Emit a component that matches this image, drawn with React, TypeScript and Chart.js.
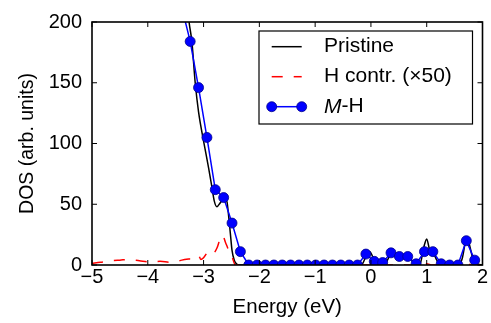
import React, { useEffect, useRef } from "react";
import { Chart, registerables } from "chart.js";

Chart.register(...registerables);

// ---- data ----
const mhEnergy = [-3.39, -3.24, -3.09, -2.94, -2.79, -2.64, -2.49, -2.34, -2.19, -2.04, -1.89, -1.74, -1.59, -1.44, -1.29, -1.14, -0.99, -0.84, -0.69, -0.54, -0.39, -0.24, -0.09, 0.06, 0.21, 0.36, 0.51, 0.66, 0.81, 0.96, 1.11, 1.26, 1.41, 1.56, 1.71, 1.86];
const mhDos = [212, 184, 146, 105, 62, 55.5, 34.5, 11, 0, 0, 0, 0, 0, 0, 0, 0, 0, 0, 0, 0, 0, 0, 9, 3, 2, 10, 7, 7, 1, 11, 11, 1, 0, 0, 20, 4];

const pristineEnergy = [-3.40, -3.35, -3.30, -3.26, -3.21, -3.15, -3.09, -3.00, -2.91, -2.85, -2.81, -2.76, -2.72, -2.67, -2.61, -2.58, -2.55, -2.52, -2.49, -2.45, -2.40, -2.35, -0.20, -0.15, -0.08, -0.02, 0.03, 0.08, 0.13, 0.25, 0.33, 0.40, 0.47, 0.55, 0.62, 0.68, 0.74, 0.80, 0.88, 0.95, 1.00, 1.05, 1.12, 1.18, 1.25, 1.58, 1.64, 1.69, 1.73, 1.78, 1.84, 1.90, 2.00];
const pristineDos = [262, 236, 219, 200, 184, 150, 126, 102, 80, 64, 53, 48, 50, 53, 54, 52, 40, 26, 12, 4, 0.5, 0, 0, 1, 8, 11, 7, 2, 0, 0.5, 7, 9, 5, 6, 5, 7, 3, 0, 1, 15, 21.5, 13, 10, 4, 0, 0, 6, 18, 22.5, 14, 3, 1, 0];

const hEnergy = [-5.0, -4.85, -4.68, -4.5, -4.32, -4.15, -3.96, -3.78, -3.6, -3.5, -3.39, -3.25, -3.18, -3.09, -3.05, -3.0, -2.92, -2.88, -2.82, -2.76, -2.7, -2.66, -2.61, -2.55, -2.49, -2.43, -2.3, 0.9, 1.0, 1.1, 1.65, 1.72, 1.8, 2.0];
const hDos = [1.5, 2.2, 3.3, 4, 4.6, 3.5, 2.4, 3, 2.2, 2.5, 4, 5, 5.4, 8, 4.6, 6, 11, 12, 10, 14, 22, 24.5, 19, 12, 6.8, 0, 0, 0, 1, 0, 0, 1.5, 0, 0];

const seriesLabels = ["Pristine", "H contr. (\u00d750)", "M-H"];
const xMin = -5, xMax = 2, xStep = 1;
const yMin = 0, yMax = 200, yStep = 50;

// ---- look ----
const W = 491, H = 323;
const FONT = '"Liberation Sans", Arial, sans-serif';
const FS_TICK = 20;
const FS_LEG = 21;
const FS_XT = 20.5;
const FS_YT = 19.5;

const toPts = (xs: number[], ys: number[]) => xs.map((x, i) => ({ x, y: ys[i] }));

const framePlugin = {
  id: "frameTicks",
  afterDraw(chart: any) {
    const { ctx, chartArea: a, scales } = chart;
    const xs = scales.x, ys = scales.y;
    ctx.save();
    ctx.strokeStyle = "#000";
    ctx.lineWidth = 1;
    const tl = 5;
    ctx.beginPath();
    for (let v = xMin; v <= xMax; v += xStep) {
      const px = xs.getPixelForValue(v);
      ctx.moveTo(px, a.bottom); ctx.lineTo(px, a.bottom - tl);
      ctx.moveTo(px, a.top); ctx.lineTo(px, a.top + tl);
    }
    for (let v = yMin; v <= yMax; v += yStep) {
      const py = ys.getPixelForValue(v);
      ctx.moveTo(a.left, py); ctx.lineTo(a.left + tl, py);
      ctx.moveTo(a.right, py); ctx.lineTo(a.right - tl, py);
    }
    ctx.stroke();
    ctx.lineWidth = 1.6;
    ctx.strokeRect(a.left, a.top, a.right - a.left, a.bottom - a.top);
    ctx.restore();
  },
};

const legendPlugin = {
  id: "customLegend",
  afterDraw(chart: any) {
    const { ctx } = chart;
    const bx = 259, by = 31, bw = 472.5 - 259, bh = 93;
    ctx.save();
    ctx.fillStyle = "#fff";
    ctx.fillRect(bx, by, bw, bh);
    ctx.strokeStyle = "#000";
    ctx.lineWidth = 1.2;
    ctx.strokeRect(bx, by, bw, bh);
    const sx0 = 271.7, sx1 = 301.7, tx = 324;
    const rows = [46.7, 76.7, 106.7];
    ctx.strokeStyle = "#000"; ctx.lineWidth = 1.5;
    ctx.beginPath(); ctx.moveTo(sx0, rows[0]); ctx.lineTo(sx1, rows[0]); ctx.stroke();
    ctx.strokeStyle = "#ff0000"; ctx.setLineDash([11, 11]);
    ctx.beginPath(); ctx.moveTo(sx0, rows[1]); ctx.lineTo(sx1, rows[1]); ctx.stroke();
    ctx.setLineDash([]);
    ctx.strokeStyle = "#0000ff";
    ctx.beginPath(); ctx.moveTo(sx0, rows[2]); ctx.lineTo(sx1, rows[2]); ctx.stroke();
    for (const px of [sx0, sx1]) {
      ctx.beginPath(); ctx.arc(px, rows[2], 5, 0, Math.PI * 2);
      ctx.fillStyle = "#0000ff"; ctx.fill();
      ctx.lineWidth = 0.8; ctx.strokeStyle = "#00008b"; ctx.stroke();
    }
    ctx.fillStyle = "#000";
    ctx.textBaseline = "middle";
    ctx.textAlign = "left";
    ctx.font = `${FS_LEG}px ${FONT}`;
    ctx.fillText(seriesLabels[0], tx, rows[0]);
    ctx.fillText(seriesLabels[1], tx, rows[1]);
    const parts = seriesLabels[2].split("-");
    ctx.font = `italic ${FS_LEG}px ${FONT}`;
    ctx.fillText(parts[0], tx, rows[2]);
    const w = ctx.measureText(parts[0]).width;
    ctx.font = `${FS_LEG}px ${FONT}`;
    ctx.fillText("-" + parts[1], tx + w, rows[2]);
    ctx.restore();
  },
};

export default function App() {
  const ref = useRef<HTMLCanvasElement | null>(null);
  useEffect(() => {
    const canvas = ref.current!;
    const chart = new Chart(canvas, {
      type: "line",
      data: {
        datasets: [
          {
            label: seriesLabels[2],
            data: toPts(mhEnergy, mhDos),
            borderColor: "#0000ff",
            backgroundColor: "#0000ff",
            borderWidth: 1.5,
            pointRadius: 5,
            pointBorderWidth: 0.8,
            pointBorderColor: "#00008b",
            pointBackgroundColor: "#0000ff",
            tension: 0,
            clip: 0,
          } as any,
          {
            label: seriesLabels[1],
            data: toPts(hEnergy, hDos),
            borderColor: "#ff0000",
            borderWidth: 1.5,
            borderDash: [11, 11],
            pointRadius: 0,
            cubicInterpolationMode: "monotone",
            clip: 0,
          } as any,
          {
            label: seriesLabels[0],
            data: toPts(pristineEnergy, pristineDos),
            borderColor: "#000000",
            borderWidth: 1.5,
            pointRadius: 0,
            cubicInterpolationMode: "monotone",
            clip: 0,
          } as any,
        ],
      },
      options: {
        responsive: false,
        maintainAspectRatio: false,
        animation: false,
        devicePixelRatio: 1,
        layout: { padding: { top: 20, right: W - 482.5, left: 0, bottom: 0 } },
        plugins: { legend: { display: false }, tooltip: { enabled: false } },
        scales: {
          x: {
            type: "linear",
            min: xMin,
            max: xMax,
            grid: { display: false, drawTicks: false },
            border: { display: false },
            ticks: {
              stepSize: xStep,
              padding: 0,
              color: "#000",
              font: { family: FONT, size: FS_TICK },
              callback: (v: any) => String(v).replace("-", "\u2212"),
            },
            title: {
              display: true,
              text: "Energy (eV)",
              color: "#000",
              font: { family: FONT, size: FS_XT },
              padding: { top: 0, bottom: 3 },
            },
            afterFit: (s: any) => { s.height = 323 - 265; },
          },
          y: {
            type: "linear",
            min: yMin,
            max: yMax,
            grid: { display: false, drawTicks: false },
            border: { display: false },
            ticks: {
              stepSize: yStep,
              padding: 10,
              color: "#000",
              font: { family: FONT, size: FS_TICK },
            },
            title: {
              display: true,
              text: "DOS (arb. units)",
              color: "#000",
              font: { family: FONT, size: FS_YT },
              padding: { top: 16, bottom: 0 },
            },
            afterFit: (s: any) => { s.width = 92; },
          },
        },
      },
      plugins: [framePlugin, legendPlugin],
    });
    return () => chart.destroy();
  }, []);
  return (
    <div style={{ position: "absolute", left: 0, top: 0, width: W, height: H, background: "#fff" }}>
      <canvas ref={ref} width={W} height={H} style={{ width: W + "px", height: H + "px", display: "block" }} />
    </div>
  );
}
